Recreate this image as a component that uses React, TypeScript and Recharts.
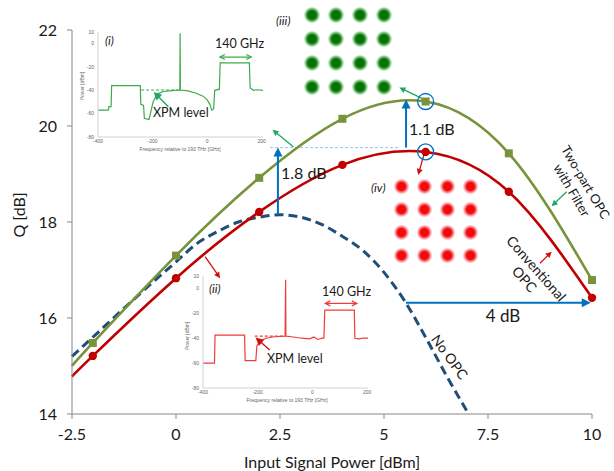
import {
  ComposedChart,
  LineChart,
  ScatterChart,
  Line,
  Scatter,
  XAxis,
  YAxis,
  ReferenceLine,
  ReferenceDot,
} from 'recharts'

document.body.style.margin = '0'

const FONT = 'Lato, "Open Sans", sans-serif'
const AXIS = '#868686'
const INK = '#1a1a1a'
const GREEN = '#77933C'
const RED = '#C00000'
const NAVY = '#1F4E79'
const BLUE = '#0070C0'
const ARROW_GREEN = '#1FA866'
const ARROW_RED = '#D01010'

// main chart
const X_TICKS = [-2.5, 0, 2.5, 5, 7.5, 10]
const Y_TICKS = [14, 16, 18, 20, 22]

const POWER = [-2, 0, 2, 4, 6, 8, 10]
const Q_TWO_PART = [15.48, 17.3, 18.92, 20.15, 20.51, 19.43, 16.79]
const Q_CONVENTIONAL = [15.21, 16.83, 18.21, 19.19, 19.46, 18.63, 16.42]
// the fitted curves run on to the left axis
const EDGE_POWER = -2.5
const Q_TWO_PART_EDGE = 15.0
const Q_CONVENTIONAL_EDGE = 14.78

const NO_OPC_POWER = [-2.5, -2, -1, 0, 0.5, 1, 1.5, 2, 2.5, 3, 3.5, 4, 4.5, 5, 5.5, 6, 6.5, 7]
const Q_NO_OPC = [15.2, 15.6, 16.4, 17.17, 17.55, 17.8, 18.0, 18.1, 18.15, 18.1, 17.95, 17.7, 17.4, 16.95, 16.35, 15.6, 14.8, 14.05]

// spectra insets
const SPEC_X_TICKS = [-400, -200, 0, 200]
const SPEC_Y_TICKS = [-80, -60, -40, -20, 0, 10]
const FREQ_I = [-400, -362, -360, -352, -350, -245, -243, -233, -230, -213, -208, -198, -183, -160, -130, -100, -99, -98, -70, -40, -15, 0, 10, 17, 24, 28, 45, 48, 155, 158, 170, 185, 205]
const POWER_I = [-57, -57, -54, -54, -36, -36, -52, -53, -64, -65, -60, -50, -43, -41, -40.2, -39.7, 9, -39.7, -40.5, -42.5, -45, -48, -52, -57, -56, -40, -39, -16.5, -16.5, -38, -40, -39.5, -40]
const FREQ_II = [-400, -358, -356, -248, -246, -207, -203, -190, -170, -140, -100, -98, -97, -96, -70, -40, -10, 5, 20, 35, 42, 45, 153, 155, 170, 185, 203]
const POWER_II = [-60, -60, -37.5, -37.5, -58, -58, -46, -42, -40, -38.8, -38.3, 7, -38.3, -38.3, -39, -40, -40.5, -39, -41, -40, -40, -17.5, -17.5, -40, -40.5, -40, -40]

// 16-QAM constellation levels
const QAM_LEVELS = [-3, -1, 1, 3]

const twoPartData = [
  { x: EDGE_POWER, q: Q_TWO_PART_EDGE, measured: false },
  ...POWER.map((x, i) => ({ x, q: Q_TWO_PART[i], measured: true })),
]
const conventionalData = [
  { x: EDGE_POWER, q: Q_CONVENTIONAL_EDGE, measured: false },
  ...POWER.map((x, i) => ({ x, q: Q_CONVENTIONAL[i], measured: true })),
]
const noOpcData = NO_OPC_POWER.map((x, i) => ({ x, q: Q_NO_OPC[i] }))
const specI = FREQ_I.map((f, i) => ({ f, p: POWER_I[i] }))
const specII = FREQ_II.map((f, i) => ({ f, p: POWER_II[i] }))
const qamPoints = QAM_LEVELS.flatMap((i) => QAM_LEVELS.map((q) => ({ i, q })))

function arrow(color: string, width: number, head: number, both = false, open = false) {
  return (p: any) => {
    const { x1, y1, x2, y2 } = p
    const a = Math.atan2(y2 - y1, x2 - x1)
    const hw = head * 0.5
    const tip = (x: number, y: number, ang: number) => {
      const bx = x - head * Math.cos(ang)
      const by = y - head * Math.sin(ang)
      return [
        [bx + hw * Math.sin(ang), by - hw * Math.cos(ang)],
        [x, y],
        [bx - hw * Math.sin(ang), by + hw * Math.cos(ang)],
      ]
        .map((pt) => pt.join(','))
        .join(' ')
    }
    const cut = open ? 0 : head * 0.8
    const sx = both ? x1 + cut * Math.cos(a) : x1
    const sy = both ? y1 + cut * Math.sin(a) : y1
    const ex = x2 - cut * Math.cos(a)
    const ey = y2 - cut * Math.sin(a)
    const headEl = (pts: string) =>
      open ? (
        <polyline points={pts} fill="none" stroke={color} strokeWidth={width} />
      ) : (
        <polygon points={pts} fill={color} />
      )
    return (
      <g>
        <line x1={sx} y1={sy} x2={ex} y2={ey} stroke={color} strokeWidth={width} />
        {headEl(tip(x2, y2, a))}
        {both && headEl(tip(x1, y1, a + Math.PI))}
      </g>
    )
  }
}

const squareDot = (props: any) => {
  const { cx, cy, payload, index } = props
  if (!payload.measured) return <g key={`sq${index}`} />
  return <rect key={`sq${index}`} x={cx - 4} y={cy - 4} width={8} height={8} fill={GREEN} />
}

const roundDot = (props: any) => {
  const { cx, cy, payload, index } = props
  if (!payload.measured) return <g key={`rd${index}`} />
  return <circle key={`rd${index}`} cx={cx} cy={cy} r={4.2} fill={RED} />
}

function Spectrum({
  left,
  top,
  height,
  data,
  color,
  arrowColor,
  xpmFrom,
  xpmTo,
  xpmLevel,
  xpmArrow,
  spanLevel,
}: any) {
  const tick = { fontSize: 5, fill: '#666', fontFamily: 'Liberation Sans, sans-serif' }
  return (
    <div style={{ position: 'absolute', left, top }}>
      <LineChart width={210} height={height} margin={{ top: 8, right: 10, bottom: 0, left: 0 }}>
        <XAxis
          type="number"
          dataKey="f"
          domain={[-400, 200]}
          ticks={SPEC_X_TICKS}
          height={17}
          tick={tick}
          tickLine={false}
          tickSize={0}
          tickMargin={2}
          axisLine={{ stroke: '#d0d0d0' }}
        />
        <YAxis
          type="number"
          domain={[-80, 10]}
          ticks={SPEC_Y_TICKS}
          width={35}
          tick={tick}
          tickLine={false}
          tickSize={0}
          tickMargin={4}
          axisLine={{ stroke: '#d0d0d0' }}
        />
        <ReferenceLine
          segment={[
            { x: xpmFrom, y: xpmLevel },
            { x: xpmTo, y: xpmLevel },
          ]}
          stroke={color}
          strokeWidth={1.2}
          strokeDasharray="3 2"
        />
        <Line
          data={data}
          dataKey="p"
          type="linear"
          stroke={color}
          strokeWidth={1.2}
          dot={false}
          isAnimationActive={false}
        />
        <ReferenceLine segment={xpmArrow} shape={arrow(arrowColor, 1.4, 8)} />
        <ReferenceLine
          segment={[
            { x: 47, y: spanLevel },
            { x: 162, y: spanLevel },
          ]}
          shape={arrow(color, 1.2, 5, true, true)}
        />
      </LineChart>
    </div>
  )
}

function Constellation({ left, top, size, color, edge, id }: any) {
  const r = size / 11.5
  return (
    <div style={{ position: 'absolute', left, top }}>
      <ScatterChart width={size} height={size} margin={{ top: 0, right: 0, bottom: 0, left: 0 }}>
        <defs>
          <radialGradient id={id}>
            <stop offset="0%" stopColor={color} stopOpacity={1} />
            <stop offset="50%" stopColor={color} stopOpacity={1} />
            <stop offset="72%" stopColor={edge} stopOpacity={0.75} />
            <stop offset="88%" stopColor={edge} stopOpacity={0.3} />
            <stop offset="100%" stopColor={edge} stopOpacity={0} />
          </radialGradient>
        </defs>
        <XAxis type="number" dataKey="i" domain={[-4, 4]} hide height={0} />
        <YAxis type="number" dataKey="q" domain={[-4, 4]} hide width={0} />
        <Scatter
          data={qamPoints}
          isAnimationActive={false}
          shape={(p: any) => <circle cx={p.cx} cy={p.cy} r={r} fill={`url(#${id})`} />}
        />
      </ScatterChart>
    </div>
  )
}

export default function App() {
  const txt = { fontFamily: FONT, fill: INK }
  const small = { fontFamily: 'Liberation Sans, sans-serif', fill: '#666', fontSize: 5 }
  return (
    <div style={{ position: 'relative', width: 614, height: 471, background: '#fff', overflow: 'hidden' }}>
      <ComposedChart width={614} height={471} margin={{ top: 30, right: 22, bottom: 0, left: 0 }}>
        <XAxis
          type="number"
          dataKey="x"
          domain={[-2.5, 10]}
          ticks={X_TICKS}
          height={57}
          axisLine={{ stroke: AXIS }}
          tickLine={{ stroke: AXIS }}
          tickSize={5}
          tickMargin={10}
          tick={{ fontSize: 16, fill: INK, fontFamily: FONT }}
        />
        <YAxis
          type="number"
          domain={[14, 22]}
          ticks={Y_TICKS}
          width={72}
          axisLine={{ stroke: AXIS }}
          tickLine={{ stroke: AXIS }}
          tickSize={5}
          tickMargin={10}
          tick={{ fontSize: 16, fill: INK, fontFamily: FONT }}
        />
        <ReferenceLine
          segment={[
            { x: 2.26, y: 19.55 },
            { x: 5.35, y: 19.55 },
          ]}
          stroke="#9DC3E6"
          strokeWidth={1}
          strokeDasharray="3 2"
        />
        <Line
          data={noOpcData}
          dataKey="q"
          type="monotone"
          stroke={NAVY}
          strokeWidth={3}
          strokeDasharray="9 5"
          dot={false}
          isAnimationActive={false}
        />
        <Line
          data={twoPartData}
          dataKey="q"
          type="natural"
          stroke={GREEN}
          strokeWidth={2.6}
          dot={squareDot}
          isAnimationActive={false}
        />
        <Line
          data={conventionalData}
          dataKey="q"
          type="natural"
          stroke={RED}
          strokeWidth={2.6}
          dot={roundDot}
          isAnimationActive={false}
        />
        <ReferenceLine
          segment={[
            { x: 2.45, y: 18.15 },
            { x: 2.45, y: 19.55 },
          ]}
          shape={arrow(BLUE, 2, 9)}
        />
        <ReferenceLine
          segment={[
            { x: 5.53, y: 19.55 },
            { x: 5.53, y: 20.55 },
          ]}
          shape={arrow(BLUE, 2, 9)}
        />
        <ReferenceLine
          segment={[
            { x: 5.53, y: 16.32 },
            { x: 9.97, y: 16.32 },
          ]}
          shape={arrow(BLUE, 2, 9)}
        />
        <ReferenceDot x={6} y={20.51} r={8} fill="none" stroke={BLUE} strokeWidth={1.3} />
        <ReferenceDot x={6} y={19.46} r={8} fill="none" stroke={BLUE} strokeWidth={1.3} />
        <ReferenceLine
          segment={[
            { x: 6.0, y: 20.54 },
            { x: 5.37, y: 20.8 },
          ]}
          shape={arrow(ARROW_GREEN, 1.3, 6)}
        />
        <ReferenceLine
          segment={[
            { x: 2.82, y: 19.57 },
            { x: 2.32, y: 19.92 },
          ]}
          shape={arrow(ARROW_GREEN, 1.3, 6)}
        />
        <ReferenceLine
          segment={[
            { x: 9.39, y: 18.63 },
            { x: 9.03, y: 18.33 },
          ]}
          shape={arrow(ARROW_GREEN, 1.3, 6)}
        />
        <ReferenceLine
          segment={[
            { x: 5.98, y: 19.46 },
            { x: 5.82, y: 18.98 },
          ]}
          shape={arrow(ARROW_RED, 1.3, 6)}
        />
        <ReferenceLine
          segment={[
            { x: 0.7, y: 17.28 },
            { x: 1.06, y: 16.83 },
          ]}
          shape={arrow(ARROW_RED, 1.3, 6)}
        />
        <ReferenceLine
          segment={[
            { x: 8.75, y: 17.14 },
            { x: 9.03, y: 17.38 },
          ]}
          shape={arrow(ARROW_RED, 1.3, 6)}
        />
      </ComposedChart>

      <Spectrum
        left={63}
        top={24}
        height={130}
        data={specI}
        color="#3DAA4A"
        arrowColor={ARROW_GREEN}
        xpmFrom={-242}
        xpmTo={-100}
        xpmLevel={-39.7}
        xpmArrow={[
          { x: -142, y: -54 },
          { x: -196, y: -41.5 },
        ]}
        spanLevel={-11.5}
      />
      <Spectrum
        left={168}
        top={268}
        height={137}
        data={specII}
        color="#F03C3C"
        arrowColor={ARROW_RED}
        xpmFrom={-211}
        xpmTo={-102}
        xpmLevel={-38.3}
        xpmArrow={[
          { x: -156, y: -49.5 },
          { x: -208, y: -39.5 },
        ]}
        spanLevel={-12}
      />

      <Constellation left={300} top={3} size={96} color="#067206" edge="#2E9E2E" id="qamGreen" />
      <Constellation left={390} top={175} size={92} color="#F50A0A" edge="#F55A6A" id="qamRed" />

      <svg width={614} height={471} style={{ position: 'absolute', left: 0, top: 0, pointerEvents: 'none' }}>
        <text {...txt} fontSize={16} x={18} y={215} textAnchor="middle" dominantBaseline="central" transform="rotate(-90 18 215)">
          Q [dB]
        </text>
        <text {...txt} fontSize={16} x={332} y={461} textAnchor="middle" dominantBaseline="central">
          Input Signal Power [dBm]
        </text>
        <text {...txt} fontSize={16} x={281} y={172} dominantBaseline="central">1.8 dB</text>
        <text {...txt} fontSize={16} x={409} y={128} dominantBaseline="central">1.1 dB</text>
        <text {...txt} fontSize={17} x={503} y={315} textAnchor="middle" dominantBaseline="central">4 dB</text>
        <text {...txt} fontSize={12} fontStyle="italic" x={276} y={20} dominantBaseline="central">(iii)</text>
        <text {...txt} fontSize={12} fontStyle="italic" x={371} y={187} dominantBaseline="central">(iv)</text>
        <text {...txt} fontSize={12} fontStyle="italic" x={105} y={40} dominantBaseline="central">(i)</text>
        <text {...txt} fontSize={12} fontStyle="italic" x={209} y={288} dominantBaseline="central">(ii)</text>
        <text {...txt} fontSize={12.5} x={153} y={112} dominantBaseline="central">XPM level</text>
        <text {...txt} fontSize={12.5} x={215} y={43} dominantBaseline="central">140 GHz</text>
        <text {...txt} fontSize={12.5} x={267} y={358} dominantBaseline="central">XPM level</text>
        <text {...txt} fontSize={12.5} x={322} y={291} dominantBaseline="central">140 GHz</text>
        <text {...small} x={82} y={86} textAnchor="middle" dominantBaseline="central" transform="rotate(-90 82 86)">
          Power [dBm]
        </text>
        <text {...small} x={180} y={149} textAnchor="middle" dominantBaseline="central">
          Frequency relative to 193 THz [GHz]
        </text>
        <text {...small} x={187} y={336} textAnchor="middle" dominantBaseline="central" transform="rotate(-90 187 336)">
          Power [dBm]
        </text>
        <text {...small} x={287} y={400} textAnchor="middle" dominantBaseline="central">
          Frequency relative to 193 THz [GHz]
        </text>
        <g transform="translate(579 186) rotate(59.5)" {...txt} fontSize={13}>
          <text x={0} y={-8} textAnchor="middle" dominantBaseline="central">Two-part OPC</text>
          <text x={0} y={8} textAnchor="middle" dominantBaseline="central">with Filter</text>
        </g>
        <g transform="translate(530.7 273.6) rotate(48.6)" {...txt} fontSize={14}>
          <text x={0} y={-8} textAnchor="middle" dominantBaseline="central">Conventional</text>
          <text x={0} y={8} textAnchor="middle" dominantBaseline="central">OPC</text>
        </g>
        <text {...txt} fontSize={14} x={450} y={356.7} textAnchor="middle" dominantBaseline="central" transform="rotate(54 450 356.7)">
          No OPC
        </text>
      </svg>
    </div>
  )
}
